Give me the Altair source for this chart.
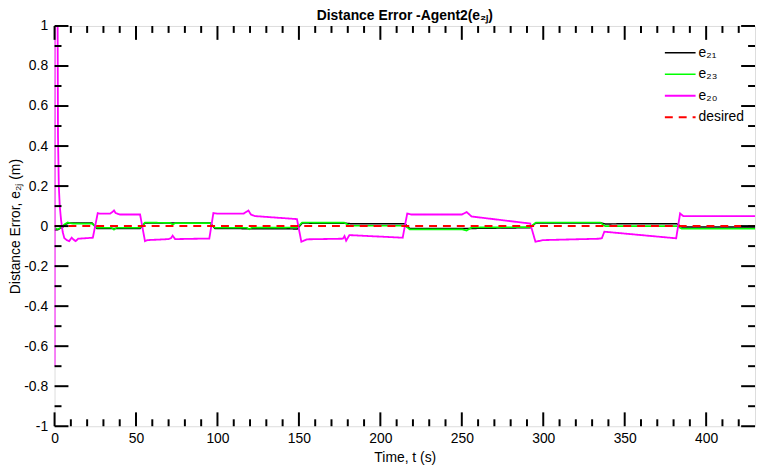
import altair as alt
import pandas as pd

# ---------------- data ----------------
series_names = ["e₂₁", "e₂₃", "e₂₀", "desired"]
series_colors = ["#000000", "#00ff00", "#ff00ff", "#ff0000"]
series_dash = [[1, 0], [1, 0], [1, 0], [8, 6]]
series_width = [1.5, 2.0, 1.5, 3.0]

t_e21 = [0, 2, 5, 7, 9, 23, 26, 52.5, 55.5, 95.5, 98.5, 149, 152, 179, 182,
         215, 218, 253, 292, 295.5, 335, 338, 382, 385, 430]
v_e21 = [-0.02, -0.018, -0.005, 0.01, 0.016, 0.016, -0.012, -0.012, 0.016, 0.016,
         -0.012, -0.014, 0.015, 0.014, 0.012, 0.012, -0.012, -0.012, -0.008, 0.016,
         0.016, 0.011, 0.012, -0.005, -0.005]

t_e23 = [0, 2, 4, 6, 8, 10, 12, 23, 26, 35, 36.5, 38, 52.5, 55.5, 71, 72.5, 74,
         95.5, 98.5, 118, 119.5, 121, 149, 152, 178, 181, 215, 218, 250, 253, 256,
         292, 295.5, 335, 338, 382, 385, 430]
v_e23 = [-0.01, -0.015, -0.008, 0.008, 0.018, 0.014, 0.012, 0.012, -0.008, -0.008,
         -0.018, -0.008, -0.008, 0.018, 0.016, 0.008, 0.015, 0.015, -0.008, -0.008,
         -0.016, -0.008, -0.007, 0.018, 0.017, 0.002, 0.002, -0.016, -0.016, -0.022,
         -0.007, -0.005, 0.018, 0.018, 0.0, 0.0, -0.013, -0.013]

t_e20 = [0, 0.25, 1.8, 2.1, 2.6, 3.2, 4, 5, 6, 7.5, 9, 10.5, 12, 13, 14.5, 20, 23.5,
         26.5, 28, 34, 35.5, 36.5, 37.5, 40, 52.5, 55.5, 57, 70, 71.5, 72.5, 74, 95,
         97.5, 100, 116, 117.5, 119, 120.5, 123, 148.8, 151.5, 155, 177, 178, 179,
         181, 213.7, 216.5, 219, 250, 253, 256, 288.7, 292, 295.2, 300, 334.4, 336,
         337.5, 381.6, 384, 386, 430]
v_e20 = [-0.70, 4.0, 1.2, 0.45, 0.2, 0.1, 0.03, -0.03, -0.06, -0.07, -0.075, -0.058,
         -0.07, -0.075, -0.063, -0.06, -0.058, 0.065, 0.062, 0.062, 0.07, 0.078,
         0.065, 0.058, 0.058, -0.075, -0.07, -0.065, -0.06, -0.048, -0.065, -0.062,
         0.065, 0.062, 0.062, 0.07, 0.078, 0.058, 0.05, 0.035, -0.078, -0.066,
         -0.063, -0.05, -0.073, -0.045, -0.058, 0.063, 0.058, 0.058, 0.07, 0.048,
         0.016, 0.013, -0.078, -0.07, -0.063, -0.06, -0.028, -0.061, 0.063, 0.05,
         0.05]

t_des = [0, 430]
v_des = [0, 0]

x_major = [0, 50, 100, 150, 200, 250, 300, 350, 400]
x_minor = [10, 20, 30, 40, 60, 70, 80, 90, 110, 120, 130, 140, 160, 170, 180, 190,
           210, 220, 230, 240, 260, 270, 280, 290, 310, 320, 330, 340, 360, 370,
           380, 390, 410, 420]
y_major = [-1, -0.8, -0.6, -0.4, -0.2, 0, 0.2, 0.4, 0.6, 0.8, 1]
y_minor = [-0.9, -0.7, -0.5, -0.3, -0.1, 0.1, 0.3, 0.5, 0.7, 0.9]

# ---------------- build table ----------------
rows = []
for name, ts, vs in zip(series_names, [t_e21, t_e23, t_e20, t_des],
                        [v_e21, v_e23, v_e20, v_des]):
    assert len(ts) == len(vs), name
    for i, (t, v) in enumerate(zip(ts, vs)):
        rows.append({"series": name, "t": t, "v": v, "i": i})
df = pd.DataFrame(rows)

W, H = 707, 404
FONT = "Liberation Sans"
xs = alt.Scale(domain=[0, 430], nice=False, zero=False)
ys = alt.Scale(domain=[-1, 1], nice=False, zero=False)

leg = alt.Legend(title=None, orient="none", legendX=615, legendY=18,
                 symbolType="stroke", symbolSize=961, labelFontSize=14,
                 labelFont=FONT, labelColor="black", labelOffset=2, padding=0,
                 clipHeight=18, rowPadding=3.7)

color = alt.Color("series:N", scale=alt.Scale(domain=series_names, range=series_colors),
                  sort=series_names, legend=leg)
dash = alt.StrokeDash("series:N", scale=alt.Scale(domain=series_names, range=series_dash),
                      sort=series_names, legend=leg)
sw = alt.StrokeWidth("series:N", scale=alt.Scale(domain=series_names, range=series_width),
                     sort=series_names, legend=leg)

xaxis = alt.Axis(values=x_major, title="Time, t (s)", grid=False, ticks=False,
                 tickSize=0, domain=False, labelFontSize=14, labelFont=FONT,
                 labelColor="black", labelPadding=5, labelFlush=False,
                 labelOverlap=False, titleFontSize=14, titleFont=FONT,
                 titleFontWeight="normal", titleColor="black", titlePadding=6)
yaxis = alt.Axis(values=y_major, title="Distance Error, e₂ⱼ (m)", grid=False,
                 ticks=False, tickSize=0, domain=False, labelFontSize=14,
                 labelFont=FONT, labelColor="black", labelPadding=7,
                 labelFlush=False, labelOverlap=False,
                 labelExpr="datum.value < 0 ? '-' + format(-datum.value, '~g') : format(datum.value, '~g')",
                 titleFontSize=14, titleFont=FONT, titleFontWeight="normal",
                 titleColor="black", titlePadding=1)

X = lambda f: alt.X(f, scale=xs, axis=xaxis, title="Time, t (s)")
Y = lambda f: alt.Y(f, scale=ys, axis=yaxis, title="Distance Error, e₂ⱼ (m)")

layers = []
for k, name in enumerate(series_names):
    layers.append(
        alt.Chart(df).transform_filter(alt.datum.series == name)
        .mark_line(clip=True).encode(
            x=X("t:Q"), y=Y("v:Q"),
            color=color, strokeDash=dash, strokeWidth=sw, order="i:Q")
    )

def xticks(vals, length):
    d = pd.DataFrame({"t": vals})
    base = alt.Chart(d).mark_rule(color="black", strokeWidth=2)
    bot = base.encode(x=X("t:Q"), y=alt.value(H), y2=alt.value(H - length))
    top = base.encode(x=X("t:Q"), y=alt.value(0), y2=alt.value(length))
    return [bot, top]

def yticks(vals, length):
    d = pd.DataFrame({"v": vals})
    base = alt.Chart(d).mark_rule(color="black", strokeWidth=2)
    left = base.encode(y=Y("v:Q"), x=alt.value(0), x2=alt.value(length))
    right = base.encode(y=Y("v:Q"), x=alt.value(W), x2=alt.value(W - length))
    return [left, right]

ticks = xticks(x_major, 14) + xticks(x_minor, 7) + yticks(y_major, 14) + yticks(y_minor, 7)

chart = alt.layer(*layers, *ticks).properties(
    width=W, height=H,
    title=alt.TitleParams("Distance Error -Agent2(e₂ⱼ)", font=FONT, fontSize=14,
                          fontWeight="bold", color="black", anchor="middle",
                          offset=1, dy=5),
    autosize=alt.AutoSizeParams(type="none"),
    padding={"left": 47, "top": 16, "right": 2, "bottom": 38},
).configure_view(stroke="black", strokeWidth=2).configure(background="white")

chart.save("out.html", embed_options={"renderer": "svg", "actions": False})
